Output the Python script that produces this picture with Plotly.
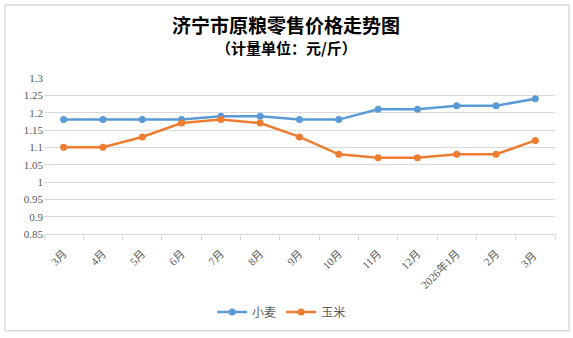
import plotly.graph_objects as go

months = ["3月", "4月", "5月", "6月", "7月", "8月", "9月", "10月", "11月", "12月",
          "2026年1月", "2月", "3月 "]
wheat = [1.18, 1.18, 1.18, 1.18, 1.19, 1.19, 1.18, 1.18, 1.21, 1.21, 1.22, 1.22, 1.24]
corn = [1.10, 1.10, 1.13, 1.17, 1.18, 1.17, 1.13, 1.08, 1.07, 1.07, 1.08, 1.08, 1.12]
y_ticks = [0.85, 0.9, 0.95, 1.0, 1.05, 1.1, 1.15, 1.2, 1.25, 1.3]
y_labels = ["0.85", "0.9", "0.95", "1", "1.05", "1.1", "1.15", "1.2", "1.25", "1.3"]

serif = "Liberation Serif, Noto Sans CJK SC, serif"
cjk = "Noto Sans CJK SC, sans-serif"

fig = go.Figure()
fig.add_trace(go.Scatter(x=months, y=wheat, name="小麦", mode="lines+markers",
                         line=dict(color="#5B9BD5", width=2.5),
                         marker=dict(size=7, color="#5B9BD5")))
fig.add_trace(go.Scatter(x=months, y=corn, name="玉米", mode="lines+markers",
                         line=dict(color="#ED7D31", width=2.5),
                         marker=dict(size=7, color="#ED7D31")))

fig.update_layout(
    width=573, height=338,
    margin=dict(l=44, r=18, t=78, b=102),
    paper_bgcolor="white", plot_bgcolor="white",
    showlegend=True,
    legend=dict(orientation="h", x=0.465, xanchor="center", y=-0.5, yanchor="middle",
                font=dict(family=cjk, size=12, color="#595959"),
                itemwidth=30, tracegroupgap=0),
    xaxis=dict(type="category", range=[-0.5, 12.5], showgrid=False, automargin=False,
               showline=True, linecolor="#D9D9D9", linewidth=1,
               ticks="outside", tickson="boundaries", ticklen=5, tickcolor="#D9D9D9",
               ticklabelstandoff=8,
               tickangle=-45, tickfont=dict(family=serif, size=11, color="#595959")),
    yaxis=dict(range=[0.85, 1.3], tickvals=y_ticks, ticktext=y_labels, automargin=False,
               showgrid=True, gridcolor="#D9D9D9", gridwidth=1,
               zeroline=False, showline=False,
               tickfont=dict(family=serif, size=11, color="#595959")),
    shapes=[dict(type="rect", xref="paper", yref="paper",
                 x0=-0.0763, x1=1.0274, y0=-0.62, y1=1.468,
                 line=dict(color="#D9D9D9", width=1.5))],
    annotations=[
        dict(text="<b>济宁市原粮零售价格走势图</b>", xref="paper", yref="paper",
             x=0.474, y=1.342, showarrow=False, yanchor="middle",
             font=dict(family=cjk, size=19, color="#000000")),
        dict(text="<b>（计量单位：元/斤）</b>", xref="paper", yref="paper",
             x=0.474, y=1.196, showarrow=False, yanchor="middle",
             font=dict(family=cjk, size=15, color="#000000")),
    ],
)

fig.write_html("out.html")
